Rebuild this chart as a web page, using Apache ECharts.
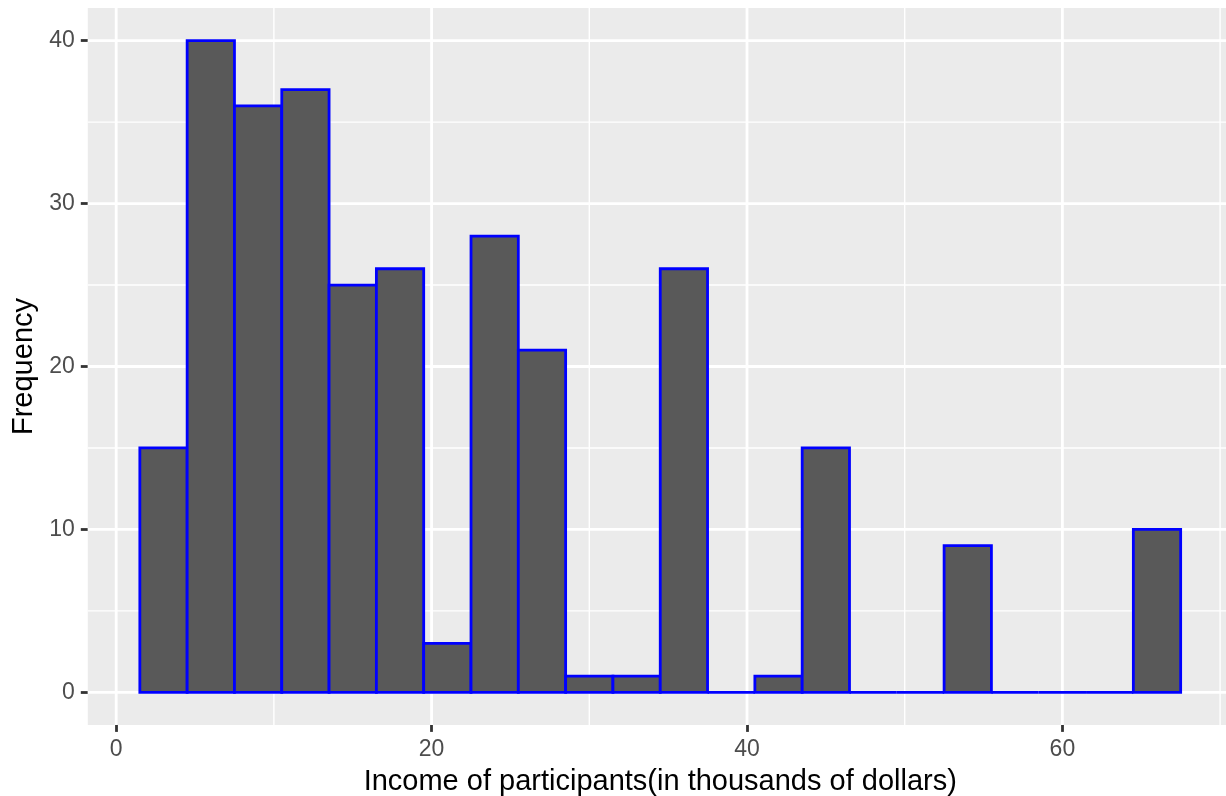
<!DOCTYPE html>
<html>
<head>
<meta charset="utf-8">
<script src="https://cdn.jsdelivr.net/npm/echarts@6/dist/echarts.min.js"></script>
<style>
  html, body { margin: 0; padding: 0; background: #ffffff; }
  #chart { width: 1226px; height: 796px; }
</style>
</head>
<body>
<div id="chart"></div>
<script>
// ---- data ----
const binCenters = [3, 6, 9, 12, 15, 18, 21, 24, 27, 30, 33, 36, 39, 42, 45, 48, 51, 54, 57, 60, 63, 66];
const counts     = [15, 40, 36, 37, 25, 26, 3, 28, 21, 1, 1, 26, 0, 1, 15, 0, 0, 9, 0, 0, 0, 10];
const binWidth = 3;
const xBreaks = [0, 20, 40, 60];
const xMinorBreaks = [10, 30, 50, 70];
const yBreaks = [0, 10, 20, 30, 40];
const yMinorBreaks = [5, 15, 25, 35];
const xRange = [-1.8, 70.8];
const yRange = [-2, 42];
const xTitle = 'Income of participants(in thousands of dollars)';
const yTitle = 'Frequency';

// ---- build ----
const FONT = '"Liberation Sans", Arial, Helvetica, sans-serif';
const gridData = [];
xMinorBreaks.forEach(v => gridData.push([0, v, 0]));
yMinorBreaks.forEach(v => gridData.push([1, v, 0]));
xBreaks.forEach(v => gridData.push([0, v, 1]));
yBreaks.forEach(v => gridData.push([1, v, 1]));

const barData = binCenters.map((c, i) => [c, counts[i]]);

const chart = echarts.init(document.getElementById('chart'), null, { renderer: 'canvas' });
chart.setOption({
  animation: false,
  backgroundColor: '#ffffff',
  grid: {
    left: 87.8, right: -6.7, top: 8.1, bottom: 71.1,
    show: true, backgroundColor: '#EBEBEB', borderWidth: 0,
    containLabel: false,
    outerBoundsMode: 'none'
  },
  xAxis: {
    type: 'value', min: xRange[0], max: xRange[1],
    axisLine: { show: false, onZero: false },
    splitLine: { show: false },
    axisTick: { show: true, customValues: xBreaks, length: 7, lineStyle: { color: '#333333', width: 2.8 } },
    axisLabel: { show: true, customValues: xBreaks, margin: 13, color: '#4D4D4D', fontSize: 23, fontFamily: FONT },
    name: xTitle, nameLocation: 'middle', nameGap: 43,
    nameTextStyle: { color: '#000000', fontSize: 29, fontFamily: FONT }
  },
  yAxis: {
    type: 'value', min: yRange[0], max: yRange[1],
    axisLine: { show: false, onZero: false },
    splitLine: { show: false },
    axisTick: { show: true, customValues: yBreaks, length: 7, lineStyle: { color: '#333333', width: 2.8 } },
    axisLabel: { show: true, customValues: yBreaks, margin: 13, color: '#4D4D4D', fontSize: 23, fontFamily: FONT },
    name: yTitle, nameLocation: 'middle', nameGap: 49,
    nameTextStyle: { color: '#000000', fontSize: 29, fontFamily: FONT }
  },
  series: [
    {
      type: 'custom', z: 1, silent: true,
      data: gridData,
      renderItem: function (params, api) {
        const o = api.value(0), v = api.value(1), major = api.value(2);
        const cs = params.coordSys;
        let shape;
        if (o === 0) {
          const px = api.coord([v, 0])[0];
          shape = { x1: px, y1: cs.y, x2: px, y2: cs.y + cs.height };
        } else {
          const py = api.coord([0, v])[1];
          shape = { x1: cs.x, y1: py, x2: cs.x + cs.width, y2: py };
        }
        return { type: 'line', shape: shape, style: { stroke: '#FFFFFF', lineWidth: major ? 2.8 : 1.4 } };
      }
    },
    {
      type: 'custom', z: 2, silent: true,
      data: barData,
      renderItem: function (params, api) {
        const c = api.value(0), n = api.value(1);
        const p0 = api.coord([c - binWidth / 2, n]);
        const p1 = api.coord([c + binWidth / 2, 0]);
        return {
          type: 'rect',
          shape: { x: p0[0], y: p0[1], width: p1[0] - p0[0], height: p1[1] - p0[1] },
          style: { fill: '#595959', stroke: '#0000FF', lineWidth: 2.8 }
        };
      }
    }
  ]
});
</script>
</body>
</html>
